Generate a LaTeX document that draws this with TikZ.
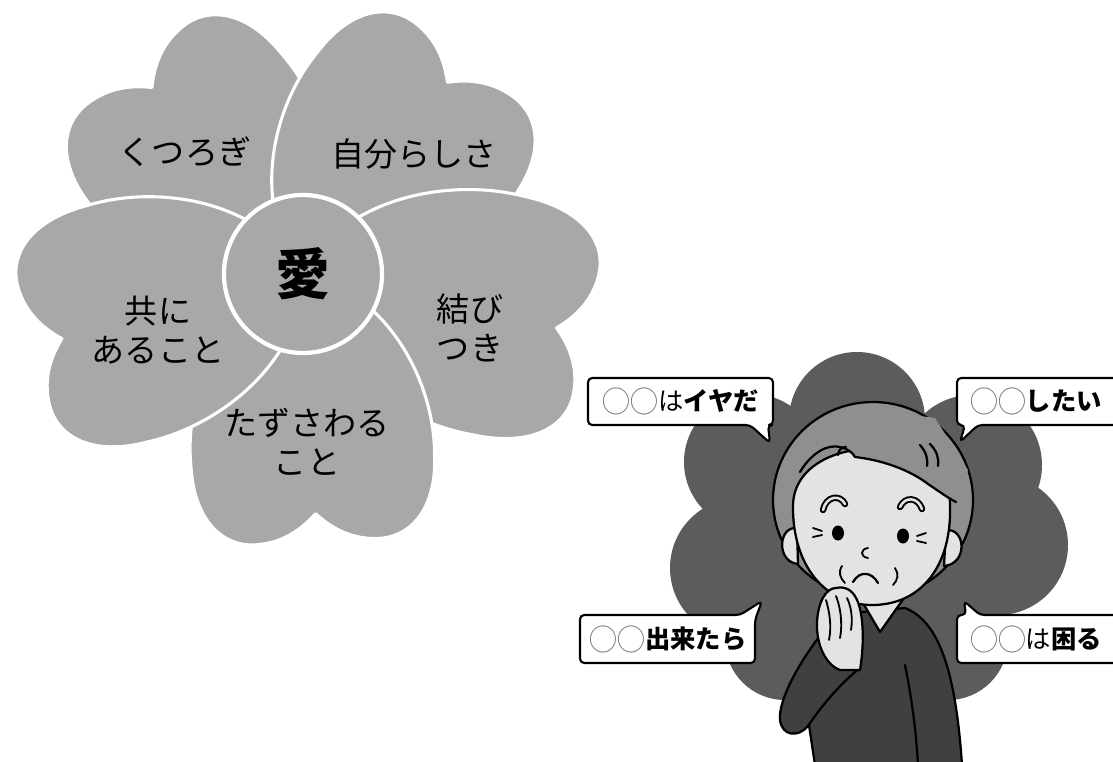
\documentclass[tikz,border=0pt]{standalone}
\usepackage{fontspec}
\setmainfont{Noto Sans CJK JP}
\usetikzlibrary{positioning}

\definecolor{petalgray}{gray}{0.66}
\definecolor{cloudgray}{gray}{0.36}
\definecolor{hairgray}{gray}{0.56}
\definecolor{skingray}{gray}{0.89}
\definecolor{knitgray}{gray}{0.25}
\definecolor{ringgray}{gray}{0.45}

% the two empty circles in every speech bubble
\newcommand{\blanks}{\textcolor{ringgray}{\raisebox{-1pt}{\scalebox{1.1}[1.15]{◯◯}}}}

\begin{document}
\begin{tikzpicture}[x=0.025cm, y=-0.025cm,
    petal/.style={fill=petalgray, draw=white, line width=2.2pt, line join=round},
    hub/.style={circle, fill=petalgray, draw=white, line width=3pt, minimum size=3.95cm, inner sep=0pt, font=\fontsize{39}{39}\selectfont\bfseries},
    word/.style={font=\fontsize{23.5}{28}\selectfont, align=center},
    ink/.style={draw=black, line width=1.6pt, line join=round, line cap=round},
    bubble/.style={fill=white, draw=black, line width=1.5pt, rounded corners=3pt, line join=round},
    say/.style={font=\fontsize{18}{20}\selectfont, inner sep=0pt}]

    \fill[white] (0,0) rectangle (1113,762);
    \clip (0,0) rectangle (1113,762);

    % flower: five heart petals round the centre
    \foreach \ang/\len in {129/1, 53/1, -12/1.08, -87/1, 195/1.04}
        \draw[petal, shift={(303,274)}, rotate=\ang, xscale=\len] (0,0) .. controls (20,80) and (110,125) .. (185,122)
            .. controls (240,122) and (268,95) .. (268,62) .. controls (268,30) and (250,10) .. (240,0)
            .. controls (250,-10) and (268,-30) .. (268,-62) .. controls (268,-95) and (240,-122) .. (185,-122)
            .. controls (110,-125) and (20,-80) .. (0,0) -- cycle;

    \node [hub] (love) at (303,274) {愛};
    \node [word] (rest) at (185,152) {くつろぎ};
    \node [word] (self) at (414,154) {自分らしさ};
    \node [word] (bond) at (470,328) {結び\\つき};
    \node [word] (touch) at (307,442) {たずさわる\\こと};
    \node [word] (share) at (158,330) {共に\\あること};

    % dark cloud behind the woman
    \fill[cloudgray] (857,420) circle (68) (752,462) circle (68) (740,568) circle (70)
        (785,640) circle (60) (972,465) circle (70) (998,545) circle (70)
        (948,640) circle (60) (865,560) circle (140);

    % body
    \filldraw[ink, fill=knitgray] (815,765) -- (806,705) .. controls (810,665) and (830,630) .. (862,612)
        -- (905,608) .. controls (935,620) and (955,660) .. (962,765) -- cycle;
    \draw[ink] (905,665) .. controls (912,700) and (916,730) .. (918,765);

    % hair, ears, neck, face
    \filldraw[ink, fill=hairgray] (873,500) ellipse (100 and 98);
    \filldraw[ink, fill=skingray] (797,528) .. controls (778,526) and (776,562) .. (798,564) -- cycle;
    \filldraw[ink, fill=skingray] (946,530) .. controls (966,528) and (968,564) .. (944,566) -- cycle;
    \filldraw[ink, fill=skingray] (860,598) -- (880,632) -- (904,598) -- cycle;
    \filldraw[ink, fill=skingray] (793,505) .. controls (792,565) and (825,605) .. (872,605)
        .. controls (922,605) and (952,565) .. (950,505) .. controls (950,430) and (795,430) .. (793,505) -- cycle;

    % fringe
    \fill[hairgray] (800,472) .. controls (812,452) and (828,444) .. (840,447) .. controls (848,449) and (852,452) .. (855,457)
        .. controls (882,460) and (910,470) .. (928,484) .. controls (940,492) and (948,498) .. (956,502)
        -- (968,470) -- (935,418) -- (860,408) -- (795,440) -- cycle;
    \draw[ink] (800,472) .. controls (812,452) and (828,444) .. (840,447) .. controls (848,449) and (852,452) .. (855,457)
        .. controls (882,460) and (910,470) .. (928,484) .. controls (940,492) and (948,498) .. (956,502);
    \draw[ink] (838,455) .. controls (838,450) and (842,447) .. (846,447);
    \draw[ink] (920,445) .. controls (926,452) and (928,458) .. (927,466);
    \draw[ink] (930,444) .. controls (937,451) and (939,458) .. (938,466);

    % brows, eyes, wrinkles, nose, mouth
    \foreach \b in {{(823,510) .. controls (826,496) and (840,494) .. (845,504)},
                    {(900,507) .. controls (905,496) and (918,497) .. (922,509)}} {
        \draw[line width=4.6pt, line cap=round] \b;
        \draw[skingray, line width=1.8pt, line cap=round] \b;
    }
    \fill (838,533) ellipse (6 and 7.5);
    \fill (903,536) ellipse (6 and 7.5);
    \draw[ink, line width=1.3pt] (813,528) -- (822,531) (813,537) -- (822,535);
    \draw[ink, line width=1.3pt] (917,536) -- (926,533) (917,541) -- (926,543);
    \draw[ink, line width=1.3pt] (868,548) .. controls (860,549) and (860,557) .. (868,558);
    \draw[ink] (853,582) .. controls (860,570) and (872,572) .. (878,583);
    \draw[ink, line width=1.3pt] (842,566) .. controls (838,572) and (840,578) .. (845,583);
    \draw[ink, line width=1.3pt] (895,568) .. controls (899,574) and (898,580) .. (893,585);

    % raised arm and hand at the chin
    \filldraw[ink, fill=knitgray] (826,628) .. controls (800,660) and (778,700) .. (780,720)
        .. controls (782,736) and (798,738) .. (808,726) .. controls (822,705) and (842,682) .. (860,668)
        -- (850,640) -- cycle;
    \filldraw[ink, fill=skingray] (840,670) .. controls (826,665) and (816,645) .. (817,622)
        .. controls (818,602) and (826,588) .. (836,588) .. controls (845,586) and (852,590) .. (856,598)
        .. controls (863,610) and (865,640) .. (860,670) -- cycle;
    \draw[ink, line width=1.3pt] (826,600) .. controls (829,610) and (832,625) .. (829,640);
    \draw[ink, line width=1.3pt] (836,596) .. controls (840,606) and (843,622) .. (840,638);
    \draw[ink, line width=1.3pt] (847,598) .. controls (851,606) and (853,618) .. (851,630);

    % speech bubbles
    \draw[bubble] (588,378) -- (773,378) -- (773,425) -- (768,425) -- (770,443) -- (750,425) -- (588,425) -- cycle;
    \draw[bubble] (957,378) -- (1125,378) -- (1125,425) -- (978,425) -- (960,442) -- (965,425) -- (957,425) -- cycle;
    \draw[bubble] (580,615) -- (740,615) -- (762,601) -- (755,620) -- (755,663) -- (580,663) -- cycle;
    \draw[bubble] (957,615) -- (966,615) -- (964,601) -- (980,615) -- (1125,615) -- (1125,663) -- (957,663) -- cycle;

    \node [say] (dislike) at (681,401) {\blanks は{\bfseries イヤだ}};
    \node [say, anchor=west] (wish) at (970,401) {\blanks{\bfseries したい}};
    \node [say] (could) at (668,639) {\blanks{\bfseries 出来たら}};
    \node [say, anchor=west] (trouble) at (970,639) {\blanks は{\bfseries 困る}};
\end{tikzpicture}
\end{document}
